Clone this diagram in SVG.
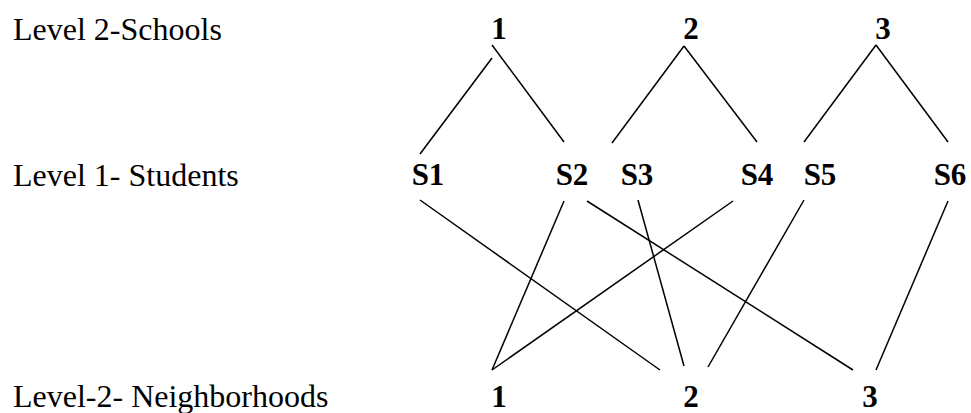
<svg xmlns="http://www.w3.org/2000/svg" width="971" height="413" viewBox="0 0 971 413">
<style>
.lbl{font-size:32px;fill:#000}
.n{font-size:31px;font-weight:bold;fill:#000;text-anchor:middle}
.e{stroke:#000;stroke-width:1.5;fill:none}
</style>
<rect width="971" height="413" fill="#fff"/>
<g font-family="'Liberation Serif', 'Times New Roman', Times, 'DejaVu Serif', serif">
<g id="labels">
<text class="lbl" x="13" y="40">Level 2-Schools</text>
<text class="lbl" x="13" y="186">Level 1- Students</text>
<text class="lbl" x="13" y="407">Level-2- Neighborhoods</text>
</g>
<g id="school1"><text class="n" x="499" y="39">1</text></g>
<g id="school2"><text class="n" x="691" y="39">2</text></g>
<g id="school3"><text class="n" x="883" y="39">3</text></g>
<g id="s1"><text class="n" x="428" y="185">S1</text></g>
<g id="s2"><text class="n" x="572" y="185">S2</text></g>
<g id="s3"><text class="n" x="637" y="185">S3</text></g>
<g id="s4"><text class="n" x="757" y="185">S4</text></g>
<g id="s5"><text class="n" x="820" y="185">S5</text></g>
<g id="s6"><text class="n" x="950" y="185">S6</text></g>
<g id="n1"><text class="n" x="499" y="407">1</text></g>
<g id="n2"><text class="n" x="691" y="407">2</text></g>
<g id="n3"><text class="n" x="870" y="407">3</text></g>
</g>
<g id="connectors" class="e">
<line class="e" x1="492" y1="58" x2="420" y2="154"/>
<line class="e" x1="492" y1="45" x2="564" y2="142"/>
<line class="e" x1="684" y1="46" x2="612" y2="143"/>
<line class="e" x1="684" y1="46" x2="757" y2="142"/>
<line class="e" x1="876" y1="45" x2="804" y2="142"/>
<line class="e" x1="876" y1="45" x2="948" y2="142"/>
<line class="e" x1="420" y1="200" x2="660" y2="370"/>
<line class="e" x1="564" y1="201" x2="492" y2="370"/>
<line class="e" x1="587" y1="201" x2="853" y2="370"/>
<line class="e" x1="638" y1="200" x2="684" y2="366"/>
<line class="e" x1="733" y1="201" x2="492" y2="370"/>
<line class="e" x1="804" y1="200" x2="708" y2="367"/>
<line class="e" x1="948" y1="201" x2="876" y2="370"/>
</g>
</svg>
